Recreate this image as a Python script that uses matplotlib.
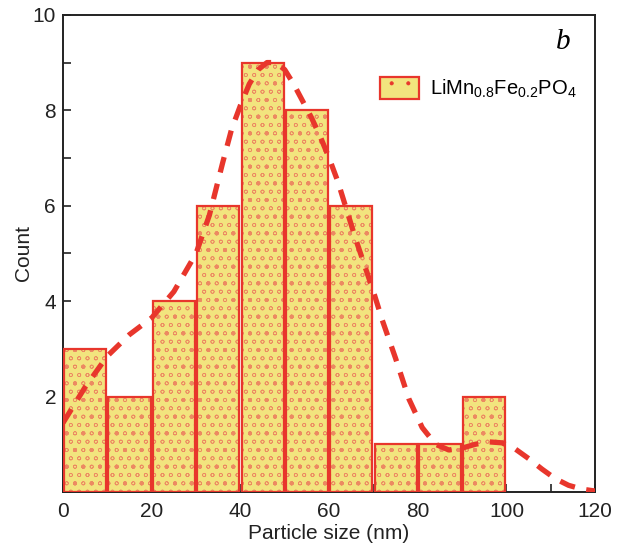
import matplotlib
matplotlib.use("Agg")
import matplotlib.pyplot as plt
from matplotlib.patches import Patch
from matplotlib.ticker import MultipleLocator, FixedLocator

plt.rcParams['font.family'] = ['Liberation Sans', 'DejaVu Sans']
plt.rcParams['mathtext.default'] = 'regular'
plt.rcParams['hatch.linewidth'] = 0.5

# Histogram data
bin_left = [0, 10, 20, 30, 40, 50, 60, 70, 80, 90]
counts = [3, 2, 4, 6, 9, 8, 6, 1, 1, 2]
bin_width = 10

# Fitted distribution curve
curve_x = [0, 5, 10, 15, 20, 25, 30, 33, 36, 38, 40, 42, 44, 46, 48, 50, 52, 54, 56,
           58, 60, 62, 64, 66, 68, 70, 72, 75, 78, 81, 84, 87, 90, 93, 96, 99, 102,
           105, 108, 111, 114, 117, 120]
curve_y = [1.45, 2.2, 2.85, 3.3, 3.65, 4.2, 5.0, 5.8, 6.9, 7.6, 8.1, 8.55, 8.85, 9.0,
           9.0, 8.85, 8.55, 8.2, 7.85, 7.45, 7.0, 6.5, 5.9, 5.3, 4.75, 4.2, 3.6, 2.8,
           1.95, 1.35, 1.0, 0.88, 0.92, 1.0, 1.05, 1.03, 0.9, 0.7, 0.48, 0.28, 0.14, 0.06, 0.02]

xticks = [0, 20, 40, 60, 80, 100, 120]
yticks = [2, 4, 6, 8, 10]

fill_c = '#F2E47E'
hatch_c = '#EC8A62'
edge_c = '#E8362C'

fig = plt.figure(figsize=(6.18, 5.5), dpi=100)
ax = fig.add_axes([0.102, 0.1055, 0.861, 0.8675])

centers = [b + bin_width / 2 for b in bin_left]
ax.bar(centers, counts, width=bin_width * 0.95, color=fill_c,
       edgecolor=hatch_c, linewidth=0, hatch='oo.', zorder=2)
ax.bar(centers, counts, width=bin_width * 0.95, fill=False,
       edgecolor=edge_c, linewidth=1.6, zorder=3)

ax.plot(curve_x, curve_y, color=edge_c, linewidth=3.8, linestyle=(0, (3, 2.2)), zorder=4)

ax.set_xlim(0, 120)
ax.set_ylim(0, 10)
ax.xaxis.set_major_locator(FixedLocator(xticks))
ax.xaxis.set_minor_locator(MultipleLocator(10))
ax.yaxis.set_major_locator(FixedLocator(yticks))
ax.yaxis.set_minor_locator(MultipleLocator(1))
ax.tick_params(axis='both', which='both', direction='in', labelsize=15,
               top=False, right=False, width=1.2, color='#222222',
               labelcolor='#222222')
ax.tick_params(which='both', length=6)
ax.tick_params(axis='y', pad=5)
ax.tick_params(axis='x', pad=7)
for s in ax.spines.values():
    s.set_linewidth(1.4)
    s.set_color('#222222')

ax.set_xlabel('Particle size (nm)', fontsize=15, color='#222222')
ax.set_ylabel('Count', fontsize=15, color='#222222')
ax.xaxis.set_label_coords(0.5, -0.067)
ax.yaxis.set_label_coords(-0.056, 0.5)

ax.text(112.8, 9.43, 'b', fontsize=21, style='italic', family='Liberation Serif',
        ha='center', va='center')

handle = Patch(facecolor=fill_c, edgecolor=edge_c, linewidth=1.6, hatch='.')
ax.legend([handle], ['LiMn$_{0.8}$Fe$_{0.2}$PO$_4$'], loc='upper right',
          bbox_to_anchor=(1.0, 0.908), frameon=False, fontsize=14.5,
          handlelength=1.95, handleheight=1.3, handletextpad=0.55)

fig.savefig('out.png', dpi=100)
